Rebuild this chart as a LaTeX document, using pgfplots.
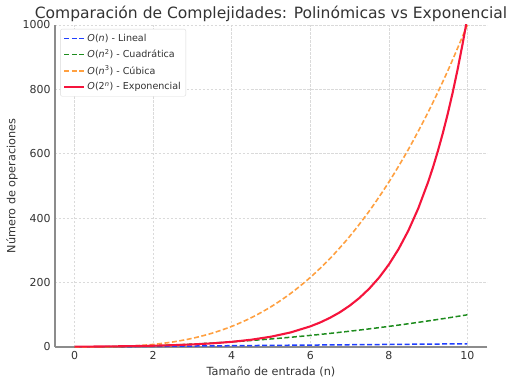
\documentclass[border=0pt]{standalone}
\usepackage{pgfplots}
\pgfplotsset{compat=1.18}
\usepackage{fontspec}
\setmainfont{DejaVu Sans}
\definecolor{cblue}{HTML}{1F3FFF}
\definecolor{cgreen}{HTML}{1E8C1E}
\definecolor{corange}{HTML}{FFA040}
\definecolor{cred}{HTML}{F5143C}
\definecolor{cgrid}{HTML}{DADADA}
\definecolor{cspine}{HTML}{8C8C8C}
\definecolor{ctext}{HTML}{333333}
\begin{document}
\begin{tikzpicture}
\path (-55bp,-40bp) rectangle (458bp,347bp);
\begin{axis}[
  scale only axis,
  width=432bp, height=322bp,
  xmin=-0.5, xmax=10.5, ymin=0, ymax=1000,
  axis lines=left,
  axis line style={-, cspine, line width=1.3bp},
  xtick={0,2,4,6,8,10},
  ytick={0,200,400,600,800,1000},
  major tick length=0pt,
  grid=major,
  major grid style={cgrid, dash pattern=on 2.5bp off 1.5bp, line width=0.6bp},
  tick label style={font=\fontsize{11}{13}\selectfont, text=ctext},
  /pgf/number format/assume math mode=true,
  /pgf/number format/1000 sep={},
  xticklabel style={yshift=-1bp},
  yticklabel style={xshift=-1bp},
  title={Comparación de Complejidades: Polinómicas vs Exponencial},
  title style={font=\fontsize{15.6}{17}\selectfont, text=ctext, yshift=-6bp},
  xlabel={Tamaño de entrada (n)},
  ylabel={Número de operaciones},
  label style={font=\fontsize{11.3}{13}\selectfont, text=ctext},
  xlabel style={yshift=0bp},
  ylabel style={yshift=-2bp},
  legend cell align=left,
  legend style={font=\fontsize{9.6}{11}\selectfont, text=ctext, draw=cgrid, rounded corners=2bp, at={(0.012,0.988)}, anchor=north west, row sep=2.5bp, inner sep=3bp},
  legend image code/.code={\draw[#1] (0bp,0bp) -- (20bp,0bp);},
  clip=true,
]
\addplot[cblue, dash pattern=on 5bp off 2.5bp, line width=1.5bp] coordinates {(0,0) (10,10)};
\addlegendentry{\textit{O}(\textit{n}) - Lineal}
\addplot[cgreen, dash pattern=on 5bp off 2.5bp, line width=1.5bp, smooth] coordinates {
(0,0) (0.5,0.25) (1,1) (1.5,2.25) (2,4) (2.5,6.25) (3,9) (3.5,12.25) (4,16) (4.5,20.25) (5,25) (5.5,30.25) (6,36) (6.5,42.25) (7,49) (7.5,56.25) (8,64) (8.5,72.25) (9,81) (9.5,90.25) (10,100)};
\addlegendentry{\textit{O}(\textit{n}\textsuperscript{2}) - Cuadrática}
\addplot[corange, dash pattern=on 5bp off 2.5bp, line width=1.6bp, smooth] coordinates {
(0,0) (0.5,0.125) (1,1) (1.5,3.375) (2,8) (2.5,15.625) (3,27) (3.5,42.875) (4,64) (4.5,91.125) (5,125) (5.5,166.375) (6,216) (6.5,274.625) (7,343) (7.5,421.875) (8,512) (8.5,614.125) (9,729) (9.5,857.375) (10,1000)};
\addlegendentry{\textit{O}(\textit{n}\textsuperscript{3}) - Cúbica}
\addplot[cred, line width=2.1bp] coordinates {
(0,1) (0.5,1.414) (1,2) (1.5,2.828) (2,4) (2.5,5.657) (3,8) (3.5,11.314) (4,16) (4.5,22.627) (5,32) (5.5,45.255) (6,64) (6.25,76.11) (6.5,90.51) (6.75,107.63) (7,128) (7.25,152.22) (7.5,181.02) (7.75,215.27) (8,256) (8.25,304.44) (8.5,362.04) (8.75,430.54) (9,512) (9.125,558.3) (9.25,608.87) (9.375,664.0) (9.5,724.08) (9.625,789.6) (9.75,861.08) (9.875,939.0) (9.95,989.0) (10,1024)};
\addlegendentry{\textit{O}(2\textsuperscript{\textit{n}}) - Exponencial}
\end{axis}
\end{tikzpicture}
\end{document}
